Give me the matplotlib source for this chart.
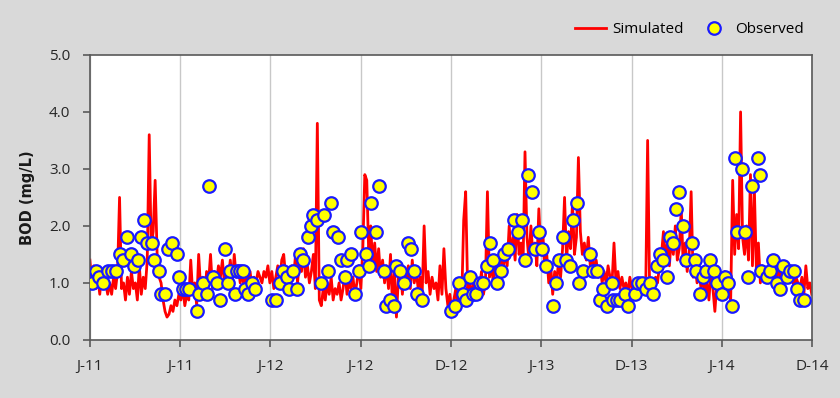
import numpy as np
import matplotlib
matplotlib.use("Agg")
import matplotlib.pyplot as plt

# simulated BOD, one value every 4 days from the start of 2011
sim_step = 4
sim_bod = [
    1.4, 1.0, 1.3, 0.9, 1.1, 0.8, 1.2, 0.9, 1.0, 0.8,
    1.0, 0.8, 1.1, 0.9, 1.2, 2.5, 0.9, 1.0, 0.7, 1.1,
    0.8, 1.2, 0.9, 1.0, 0.7, 1.3, 0.8, 1.1, 0.9, 1.4,
    3.6, 1.6, 1.9, 2.8, 1.5, 1.1, 1.0, 0.7, 0.5, 0.4,
    0.45, 0.6, 0.5, 0.7, 0.6, 0.8, 0.7, 0.9, 0.6, 0.8,
    0.7, 1.4, 0.8, 1.0, 0.6, 1.5, 0.9, 1.1, 0.7, 1.2,
    1.0, 1.5, 0.9, 1.2, 1.0, 1.3, 1.1, 1.4, 1.0, 1.2,
    1.1, 1.4, 1.0, 1.5, 1.1, 1.3, 1.0, 1.2, 0.9, 1.1,
    1.0, 1.2, 0.9, 1.1, 1.0, 1.2, 1.1, 1.0, 1.2, 1.1,
    1.3, 1.0, 1.2, 0.9, 1.1, 1.3, 1.0, 1.4, 1.5, 1.1,
    1.2, 1.0, 1.3, 1.1, 1.5, 1.0, 1.4, 1.2, 1.6, 1.1,
    1.3, 1.0, 1.2, 1.5, 0.9, 3.8, 0.7, 0.6, 0.9, 0.7,
    1.0, 0.8, 1.1, 0.7, 0.9, 0.8, 1.0, 0.7, 0.9, 1.2,
    0.8, 1.0, 0.9, 1.1, 0.8, 1.0, 1.3, 0.9, 1.6, 2.9,
    2.8, 1.5, 2.0, 1.3, 1.7, 1.2, 1.6, 1.1, 1.4, 1.0,
    1.3, 0.9, 1.5, 0.6, 1.2, 0.4, 1.1, 1.3, 0.8, 1.2,
    1.0, 1.3, 0.9, 1.4, 1.0, 1.2, 0.9, 1.1, 0.8, 2.0,
    1.0, 1.2, 0.8, 1.1, 0.9, 1.0, 0.7, 1.3, 0.8, 1.6,
    0.9, 0.6, 0.8, 0.5, 0.7, 0.9, 0.6, 1.0, 0.7, 2.1,
    2.6, 0.9, 1.0, 0.7, 1.1, 0.8, 1.0, 0.9, 1.2, 0.8,
    1.0, 2.6, 1.1, 1.3, 1.0, 1.4, 1.1, 1.3, 1.5, 1.2,
    1.6, 1.3, 2.0, 1.5, 1.8, 1.4, 2.2, 1.5, 1.7, 1.3,
    3.3, 1.8, 1.4, 2.0, 1.5, 1.7, 1.3, 2.3, 1.5, 1.9,
    1.2, 1.5, 1.0, 1.3, 0.8, 1.2, 1.0, 1.4, 1.1, 1.6,
    2.5, 1.4, 1.9, 1.6, 2.4, 1.5, 1.8, 3.2, 1.9, 1.5,
    1.7, 1.4, 1.8, 1.3, 1.5, 1.2, 1.4, 1.1, 1.3, 1.0,
    1.2, 1.0, 1.3, 1.1, 1.0, 1.7, 1.0, 1.2, 0.9, 1.1,
    0.9, 1.0, 0.8, 1.1, 0.9, 1.0, 0.8, 0.9, 0.8, 1.0,
    0.9, 0.8, 3.5, 0.9, 1.0, 0.9, 1.1, 1.0, 1.3, 1.5,
    1.9, 1.4, 1.7, 1.3, 1.8, 1.5, 2.0, 1.4, 1.6, 2.3,
    1.3, 1.7, 1.2, 1.5, 2.6, 1.1, 1.3, 1.0, 1.2, 0.9,
    1.1, 0.8, 1.0, 0.7, 1.2, 0.9, 0.5, 1.0, 0.8, 1.1,
    0.9, 1.2, 0.8, 1.0, 0.7, 2.8, 1.5, 2.2, 1.6, 4.0,
    1.8, 1.5, 2.0, 1.4, 2.9, 1.3, 2.6, 1.2, 1.7, 1.0,
    1.3, 1.1, 1.2, 1.0, 1.3, 1.1, 1.2, 1.0, 1.3, 1.1,
    1.2, 1.0, 1.3, 1.1, 1.0, 1.2, 0.9, 1.1, 1.0, 0.9,
    1.1, 0.8, 1.3, 0.9, 1.0, 0.8,
]

# observed samples: day since 2011-01-01 and BOD
obs_day = [
    4, 12, 18, 26, 36, 45, 53, 61, 67, 75, 83, 89, 97, 103, 109, 115,
    125, 130, 140, 144, 152, 158, 166, 176, 180, 188, 194, 200, 217, 221,
    229, 237, 241, 249, 257, 263, 273, 279, 283, 293, 297, 304, 310, 314,
    320, 328, 334, 368, 376, 384, 391, 399, 403, 411, 419, 425, 431, 441,
    447, 451, 459, 467, 474, 482, 488, 492, 502, 508, 516, 520, 528, 536,
    544, 548, 558, 565, 569, 579, 585, 595, 599, 607, 615, 619, 627, 635,
    643, 650, 656, 662, 672, 730, 739, 747, 755, 761, 769, 775, 781, 789,
    795, 803, 809, 815, 824, 832, 838, 846, 858, 866, 874, 880, 886, 894,
    900, 909, 915, 923, 937, 943, 949, 957, 963, 971, 977, 985, 989, 998,
    1012, 1018, 1026, 1032, 1038, 1046, 1056, 1058, 1066, 1072, 1083, 1089,
    1103, 1109, 1117, 1125, 1133, 1139, 1147, 1153, 1159, 1168, 1174, 1180,
    1186, 1192, 1200, 1206, 1218, 1224, 1226, 1234, 1240, 1246, 1255, 1263,
    1269, 1279, 1285, 1291, 1299, 1305, 1309, 1319, 1325, 1331, 1340, 1352,
    1356, 1358, 1370, 1376, 1382, 1390, 1396, 1402, 1410, 1416, 1425, 1431,
    1437, 1445,
]
obs_bod = [
    1.0, 1.2, 1.1, 1.0, 1.2, 1.2, 1.2, 1.5, 1.4, 1.8, 1.5, 1.3, 1.4, 1.8, 2.1, 1.7,
    1.7, 1.4, 1.2, 0.8, 0.8, 1.6, 1.7, 1.5, 1.1, 0.9, 0.9, 0.9, 0.5, 0.8,
    1.0, 0.8, 2.7, 1.1, 1.0, 0.7, 1.6, 1.0, 1.2, 0.8, 1.2, 1.2, 1.2, 0.9,
    0.8, 1.0, 0.9, 0.7, 0.7, 1.0, 1.2, 1.1, 0.9, 1.2, 0.9, 1.5, 1.4, 1.8,
    2.0, 2.2, 2.1, 1.0, 2.2, 1.2, 2.4, 1.9, 1.8, 1.4, 1.1, 1.4, 1.5, 0.8,
    1.2, 1.9, 1.5, 1.3, 2.4, 1.9, 2.7, 1.2, 0.6, 0.7, 0.6, 1.3, 1.2, 1.0,
    1.7, 1.6, 1.2, 0.8, 0.7, 0.5, 0.6, 1.0, 0.8, 0.7, 1.1, 0.8, 0.8, 1.0,
    1.0, 1.3, 1.7, 1.4, 1.0, 1.2, 1.5, 1.6, 2.1, 1.9, 2.1, 1.4, 2.9, 2.6,
    1.6, 1.9, 1.6, 1.3, 0.6, 1.0, 1.4, 1.8, 1.4, 1.3, 2.1, 2.4, 1.0, 1.2,
    1.5, 1.2, 1.2, 0.7, 0.9, 0.6, 1.0, 0.7, 0.7, 0.7, 0.8, 0.6,
    0.8, 1.0, 1.0, 0.9, 1.0, 0.8, 1.3, 1.5, 1.4, 1.1, 1.8, 1.7,
    2.3, 2.6, 2.0, 1.4, 1.7, 1.4, 1.2, 0.8, 1.1, 1.2, 1.4, 1.2,
    1.0, 0.8, 1.1, 1.0, 0.6, 3.2, 1.9, 3.0, 1.9, 1.1, 2.7, 3.2,
    2.9, 1.2, 1.1, 1.2, 1.4, 1.0, 0.9, 1.3, 1.1, 1.2, 1.2, 0.9,
    0.7, 0.7,
]

tick_labels = ["J-11", "J-11", "J-12", "J-12", "D-12", "J-13", "D-13", "J-14", "D-14"]
x_end = 1461

plt.rcParams["font.family"] = ["Open Sans", "DejaVu Sans"]

fig = plt.figure(figsize=(8.4, 3.98), dpi=100, facecolor="#d9d9d9")
ax = fig.add_axes([0.107, 0.146, 0.860, 0.716])
ax.set_facecolor("white")

sim_day = np.arange(len(sim_bod)) * sim_step
ax.plot(sim_day, sim_bod, color="#ff0000", lw=2, label="Simulated", zorder=2)
ax.plot(obs_day, obs_bod, ls="none", marker="o", ms=9, mfc="#ffff00",
        mec="#1a1aff", mew=1.6, label="Observed", zorder=3)

ax.set_xlim(0, x_end)
ax.set_ylim(0, 5)
ax.set_xticks(np.linspace(0, x_end, len(tick_labels)))
ax.set_xticklabels(tick_labels)
ax.set_yticks(np.arange(0, 5.01, 1.0))
ax.set_yticklabels([f"{v:.1f}" for v in np.arange(0, 5.01, 1.0)])
ax.xaxis.grid(True, color="#c8c8c8", lw=1)
ax.set_axisbelow(True)

for s in ax.spines.values():
    s.set_color("#595959")
    s.set_linewidth(1.2)
ax.tick_params(axis="both", direction="out", length=5, width=1.2, color="#595959",
               labelsize=11, labelcolor="#262626")
ax.tick_params(axis="x", pad=9)
ax.tick_params(axis="y", pad=9)

ax.set_ylabel("BOD (mg/L)", fontsize=10.5, fontweight="bold", color="#1a1a1a",
              labelpad=10, family=["DejaVu Sans"])

ax.legend(loc="center right", bbox_to_anchor=(0.997, 1.088), ncol=2, frameon=False,
          fontsize=11, handlelength=2.0, columnspacing=1.0, handletextpad=0.4,
          borderaxespad=0)

fig.savefig("out.png", dpi=100, facecolor=fig.get_facecolor())
